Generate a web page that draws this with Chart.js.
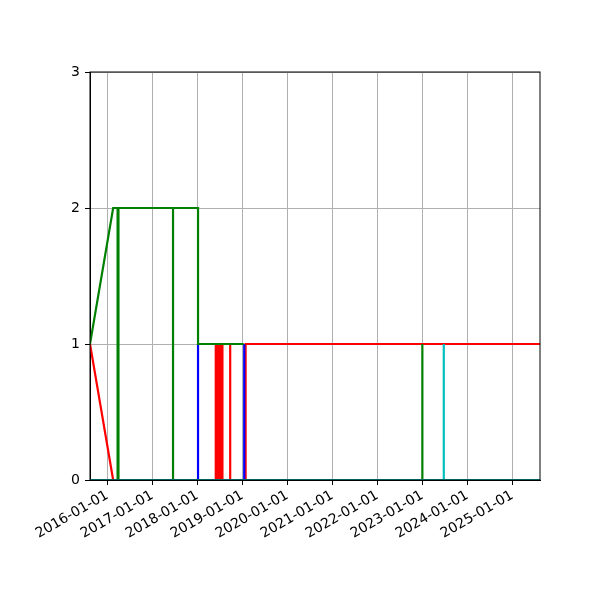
<!DOCTYPE html>
<html>
<head>
<meta charset="utf-8">
<script src="https://cdn.jsdelivr.net/npm/chart.js@4/dist/chart.umd.min.js"></script>
<style>
  html, body { margin: 0; padding: 0; background: #fff; }
  #chart { display: block; }
</style>
</head>
<body>
<canvas id="chart" width="600" height="600"></canvas>
<script>
// axis range and ticks
const xMin = '2015-08-13';
const xMax = '2025-08-13';
const xTickLabels = ['2016-01-01', '2017-01-01', '2018-01-01', '2019-01-01', '2020-01-01',
                     '2021-01-01', '2022-01-01', '2023-01-01', '2024-01-01', '2025-01-01'];
const yTicks = [0, 1, 2, 3];

// series (null = gap in the line)
const redDates = ['2015-08-13', '2016-02-17', '2016-02-18',
    '2018-05-30', '2018-05-30', '2018-06-08', '2018-06-08', '2018-06-17', '2018-06-17',
    '2018-06-26', '2018-06-26', '2018-07-05', '2018-07-05', '2018-07-14', '2018-07-14',
    '2018-07-23', '2018-07-23', '2018-07-24',
    '2018-09-24', '2018-09-24', '2018-09-25',
    '2019-01-27', '2019-01-27', '2025-08-13'];
const redValues = [1, 0, null,
    0, 1, 1, 0, 0, 1,
    1, 0, 0, 1, 1, 0,
    0, 1, null,
    0, 1, null,
    0, 1, 1];

const greenDates = ['2015-08-13', '2016-02-17', '2016-03-24', '2016-03-24', '2016-03-31', '2016-03-31',
    '2017-06-17', '2017-06-17', '2017-06-17', '2018-01-06', '2018-01-06', '2019-01-12', '2019-01-13',
    '2023-01-01', '2023-01-01'];
const greenValues = [1, 2, 2, 0, 0, 2,
    2, 0, 2, 2, 1, 1, null,
    0, 1];

const blueDates = ['2018-01-06', '2018-01-06', '2018-01-07', '2019-01-16', '2019-01-16'];
const blueValues = [0, 1, null, 0, 1];

const cyanDates = ['2015-08-13', '2023-06-24', '2023-06-24', '2023-06-24', '2025-08-13'];
const cyanValues = [0, 0, 1, 0, 0];

function toPoints(dates, values) {
    return dates.map((d, i) => ({ x: Date.parse(d), y: values[i] }));
}

function series(dates, values, color, order) {
    return {
        data: toPoints(dates, values),
        borderColor: color,
        backgroundColor: color,
        borderWidth: 2.2,
        pointRadius: 0,
        tension: 0,
        spanGaps: false,
        order: order
    };
}

// matplotlib-like frame on all four sides
const framePlugin = {
    id: 'frame',
    afterDraw(chart) {
        const a = chart.chartArea;
        const ctx = chart.ctx;
        ctx.save();
        ctx.strokeStyle = '#000';
        ctx.lineWidth = 1;
        ctx.strokeRect(a.left, a.top, a.right - a.left, a.bottom - a.top);
        ctx.restore();
    }
};

const ctx = document.getElementById('chart').getContext('2d');
new Chart(ctx, {
    type: 'line',
    data: {
        datasets: [
            series(redDates, redValues, '#ff0000', 4),
            series(blueDates, blueValues, '#0000ff', 3),
            series(greenDates, greenValues, '#008000', 2),
            series(cyanDates, cyanValues, '#00bfbf', 1)
        ]
    },
    options: {
        responsive: false,
        animation: false,
        devicePixelRatio: 1,
        layout: { padding: { top: 72, right: 60, bottom: 0, left: 0 } },
        plugins: {
            legend: { display: false },
            tooltip: { enabled: false }
        },
        scales: {
            x: {
                type: 'linear',
                min: Date.parse(xMin),
                max: Date.parse(xMax),
                afterBuildTicks: scale => {
                    scale.ticks = xTickLabels.map(t => ({ value: Date.parse(t) }));
                },
                afterFit: scale => { scale.height = 120; },
                ticks: {
                    autoSkip: false,
                    maxRotation: 30,
                    minRotation: 30,
                    padding: 2,
                    color: '#000',
                    font: { family: 'DejaVu Sans', size: 14 },
                    callback: value => new Date(value).toISOString().slice(0, 10)
                },
                grid: { color: '#b0b0b0', lineWidth: 1, tickLength: 5, tickColor: '#000' },
                border: { color: '#000', width: 1 }
            },
            y: {
                type: 'linear',
                min: yTicks[0],
                max: yTicks[yTicks.length - 1],
                afterBuildTicks: scale => {
                    scale.ticks = yTicks.map(v => ({ value: v }));
                },
                afterFit: scale => { scale.width = 90; },
                ticks: {
                    padding: 5,
                    color: '#000',
                    font: { family: 'DejaVu Sans', size: 14 }
                },
                grid: { color: '#b0b0b0', lineWidth: 1, tickLength: 5, tickColor: '#000' },
                border: { color: '#000', width: 1 }
            }
        }
    },
    plugins: [framePlugin]
});
</script>
</body>
</html>
